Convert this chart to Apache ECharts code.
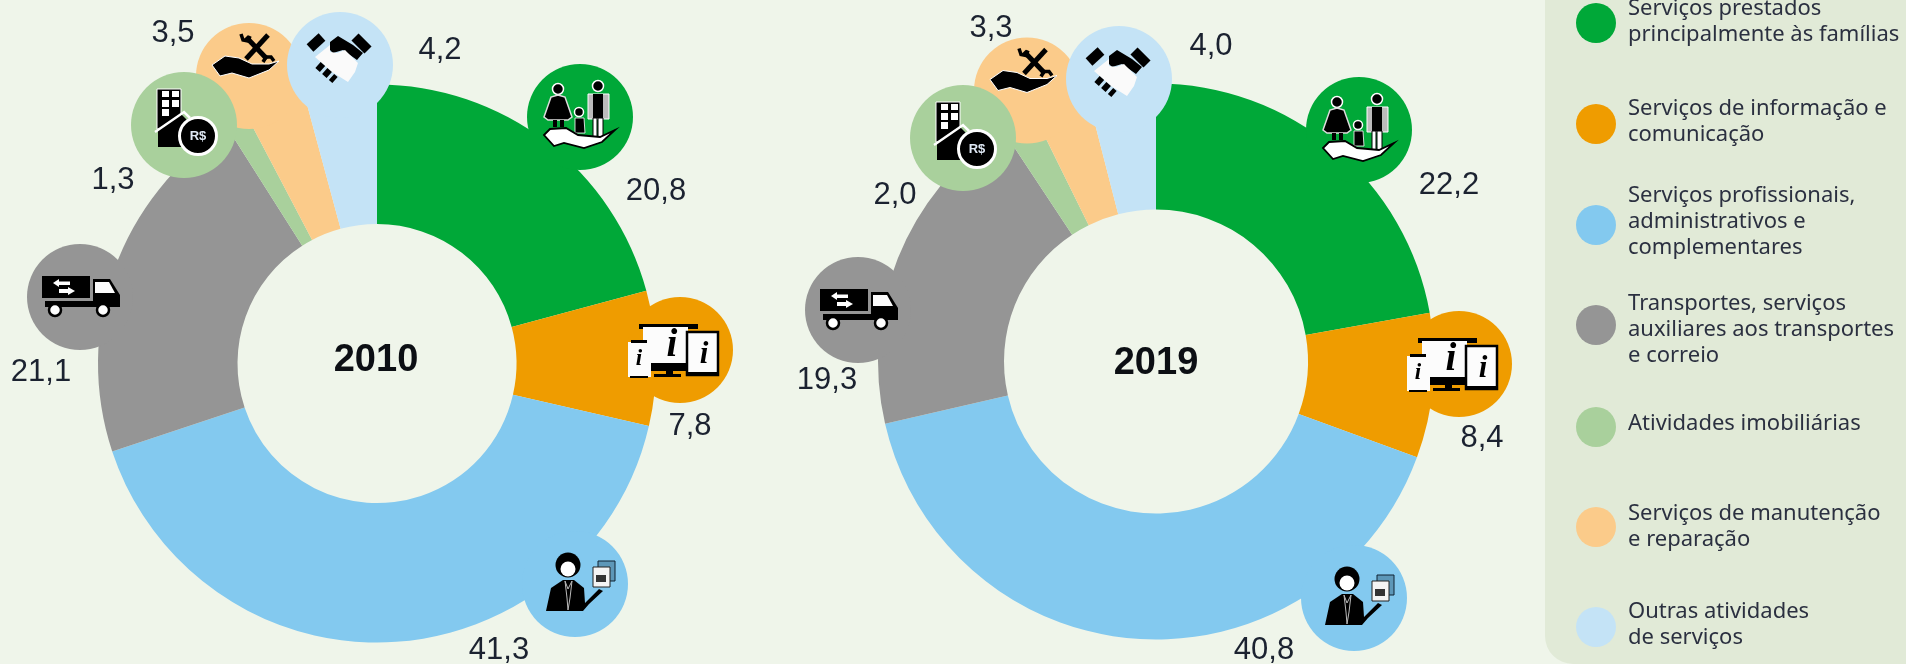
<!DOCTYPE html>
<html>
<head>
<meta charset="utf-8">
<style>
  html, body { margin: 0; padding: 0; background: #eff5ea; }
  #chart { width: 1906px; height: 664px; }
</style>
<script src="https://cdn.jsdelivr.net/npm/echarts@6/dist/echarts.min.js"></script>
</head>
<body>
<div id="chart"></div>
<script>
const categories = [
  'Serviços prestados\nprincipalmente às famílias',
  'Serviços de informação e\ncomunicação',
  'Serviços profissionais,\nadministrativos e\ncomplementares',
  'Transportes, serviços\nauxiliares aos transportes\ne correio',
  'Atividades imobiliárias',
  'Serviços de manutenção\ne reparação',
  'Outras atividades\nde serviços'
]
const values2010 = [20.8, 7.8, 41.3, 21.1, 1.3, 3.5, 4.2]
const values2019 = [22.2, 8.4, 40.8, 19.3, 2.0, 3.3, 4.0]
const years = ['2010', '2019']
const colors = ['#00a838', '#ef9c00', '#83c9ef', '#959595', '#a9d09c', '#fbcb8a', '#c4e3f6']

// layout, px on the 1906x664 page
const pieLayout = [
  { center: [377, 363.5], radius: [139.5, 279], yearAt: [376, 361] },
  { center: [1156, 361.5], radius: [152, 278], yearAt: [1156, 364] }
]
const labelSpots = [
  [[656, 191], [690, 426], [499, 650], [41, 372], [113, 180], [173, 33], [440, 50]],
  [[1449, 185], [1482, 438], [1264, 650], [827, 380], [895, 195], [991, 28], [1211, 46]]
]
const bubbleSpots = [
  [[580, 117], [680, 350], [575, 584], [80, 297], [184, 125], [249, 76], [340, 65]],
  [[1359, 130], [1459, 364], [1354, 598], [858, 310], [963, 138], [1027, 90.5], [1119, 79]]
]
const bubbleOrder = [0, 1, 2, 3, 5, 4, 6]
const swatchCenters = [23, 124, 225, 325, 427, 527, 627]
const textCenters = [21.5, 122, 222, 330, 423.5, 527, 624.5]
const legendLines = [2, 2, 3, 3, 1, 2, 2]

const poly = (points, fill, stroke, lineWidth) => ({
  type: 'polygon', shape: { points }, style: { fill, stroke, lineWidth: lineWidth || 0 }
})
const box = (x0, y0, x1, y1, fill, stroke, lineWidth) => ({
  type: 'rect', shape: { x: x0, y: y0, width: x1 - x0, height: y1 - y0 },
  style: { fill, stroke, lineWidth: lineWidth || 0 }
})
const dot = (cx, cy, r, fill, stroke, lineWidth) => ({
  type: 'circle', shape: { cx, cy, r }, style: { fill, stroke, lineWidth: lineWidth || 0 }
})
const seg = (points, stroke, lineWidth, lineDash) => ({
  type: 'polyline', shape: { points }, style: { fill: null, stroke, lineWidth, lineDash }
})
const letter = (x, y, text, fontSize, fill, fontFamily, fontStyle) => ({
  type: 'text', x, y,
  style: { text, fontSize, fill, fontFamily, fontStyle, fontWeight: 'bold', align: 'center', verticalAlign: 'middle' }
})

const iconFamily = () => [
  dot(-22, -28, 5.5, '#000', '#fff', 1.5),
  poly([[-22, -22], [-15, -20], [-8, 0], [-12, 3], [-32, 3], [-36, 0], [-29, -20]], '#000', '#ddd', 1.5),
  box(-27, 3, -23, 10, '#000'),
  box(-20, 3, -16, 10, '#000'),
  dot(18, -31, 5.5, '#000', '#fff', 1.5),
  box(8, -23, 29, 2, '#bbb', '#fff', 1),
  box(13, -23, 23, 1, '#000'),
  box(13, 1, 17, 20, '#fff', '#000', 1),
  box(18, 1, 23, 20, '#fff', '#000', 1),
  dot(-1, -5, 4.5, '#000', '#fff', 1.5),
  poly([[-5, 1], [4, 1], [5, 16], [-5, 16]], '#000', '#fff', 0.8),
  poly([[-36, 18], [-30, 12], [-14, 11], [-2, 18], [20, 20], [35, 13], [22, 25], [4, 31], [-16, 26], [-26, 29]], '#fff', '#000', 1.8)
]
const iconDevices = () => [
  box(-41, -26, 18, -21, '#000'),
  box(-37, -23, 8, 13, '#fcfcfc'),
  box(-31, 13, 7, 21, '#000'),
  box(-14, 21, -7, 25, '#000'),
  box(-26, 24, 1, 27, '#000'),
  letter(-8, -4, 'i', 39, '#000', '"Liberation Serif"', 'italic'),
  box(-52, -8, -29, 27, '#fcfcfc'),
  box(-49, -10, -33, -7, '#000'),
  box(-50, 26, -32, 28, '#000'),
  letter(-41, 9, 'i', 23, '#000', '"Liberation Serif"', 'italic'),
  box(7, -18, 38, 25, '#fcfcfc', '#000', 2.5),
  box(7, 22, 38, 26, '#000'),
  letter(24, 5, 'i', 31, '#000', '"Liberation Serif"', 'italic')
]
const iconPerson = () => [
  dot(-7, -19, 12.5, '#000'),
  dot(-7, -15, 7.5, '#fff'),
  poly([[-29, 27], [-24, 4], [-12, -4], [-1, -4], [9, 4], [10, 19], [24, 5], [28, 7], [14, 20], [8, 27]], '#000'),
  seg([[-10, -3], [-8, 14], [-7, 26], [-5, 14], [-3, -3], [-7, 5], [-10, -3]], '#bbb', 1),
  box(23, -23, 40, -3, '#5d97b8', '#123', 1),
  box(18, -17, 35, 3, '#f4f4f4', '#222', 1),
  box(21, -9, 31, -2, '#333')
]
const iconTruck = () => [
  box(-38, -21, 10, 1, '#000'),
  poly([[13, -18], [30, -18], [40, -2], [40, 10], [-35, 10], [-35, 4], [13, 4]], '#000'),
  poly([[15, -15], [29, -15], [35, -4], [15, -4]], '#fcfcfc'),
  dot(-25, 13, 6, '#fff', '#000', 2.5),
  dot(23, 13, 6, '#fff', '#000', 2.5),
  poly([[-27, -14], [-21, -18], [-21, -15.5], [-10, -15.5], [-10, -12], [-21, -12], [-21, -10]], '#fff'),
  poly([[-5, -6], [-12, -10], [-12, -8], [-21, -8], [-21, -4], [-12, -4], [-12, -2]], '#fff')
]
const iconBuilding = () => [
  box(-27, -36, -3, 4, '#000', '#fff', 1),
  box(-22, -34, -15, -28, '#fff'),
  box(-12, -34, -5, -28, '#fff'),
  box(-22, -25, -15, -18, '#fff'),
  box(-12, -25, -5, -18, '#fff'),
  box(-22, -16, -15, -9, '#fff'),
  poly([[-26, 22], [-26, 5], [-3, -11], [7, -1], [7, 22]], '#000'),
  seg([[-29, 7], [0, -13], [6, -7]], '#fff', 2.5),
  dot(14, 11, 18.5, '#000', '#fff', 3),
  letter(14, 11, 'R$', 13, '#dfe8f4', '"Liberation Sans"')
]
const iconTools = () => [
  seg([[-3, -39], [18, -17]], '#000', 5),
  seg([[19, -41], [-3, -17]], '#000', 5),
  seg([[-8, -42], [-6, -36], [-1, -35], [1, -40]], '#000', 3.5),
  seg([[14, -14], [17, -19], [22, -19], [25, -15]], '#000', 3.5),
  poly([[-37, -11], [-24, -20], [-10, -18], [3, -12], [20, -12], [30, -15], [20, -6], [0, 2], [-17, -3], [-29, 0]], '#000', '#fff', 1)
]
const iconHandshake = () => [
  seg([[-30, -17], [-18, -28]], '#000', 10),
  seg([[15, -28], [28, -15]], '#000', 10),
  poly([[-10, -23], [-2, -29], [13, -20], [23, -12], [17, -5], [3, -15], [-7, -12], [-10, -15]], '#000'),
  poly([[-25, -8], [-10, -20], [-10, -13], [-3, -12], [5, -15], [18, -2], [15, 7], [8, 17], [0, 12], [-8, 7]], '#fafafa'),
  seg([[-22, 0], [-5, 15]], '#000', 8, [6, 3])
]
const icons = [iconFamily, iconDevices, iconPerson, iconTruck, iconBuilding, iconTools, iconHandshake]

const fmt = v => v.toFixed(1).replace('.', ',')

// bubbles and icons have to sit above the pie sectors
function raise (el) {
  el.z = 10
  if (el.children) el.children.forEach(raise)
  return el
}

function buildPie (values, idx) {
  return {
    type: 'pie',
    z: 1,
    center: pieLayout[idx].center,
    radius: pieLayout[idx].radius,
    startAngle: 90,
    clockwise: true,
    animation: false,
    silent: true,
    avoidLabelOverlap: false,
    percentPrecision: 1,
    itemStyle: { borderWidth: 0 },
    label: {
      show: true,
      formatter: p => fmt(p.value),
      color: '#1b2230',
      fontFamily: '"Liberation Sans"',
      fontSize: 31
    },
    labelLine: { show: false },
    labelLayout: p => ({
      x: labelSpots[idx][p.dataIndex][0],
      y: labelSpots[idx][p.dataIndex][1],
      align: 'center',
      verticalAlign: 'middle'
    }),
    data: categories.map((name, i) => ({ name, value: values[i], itemStyle: { color: colors[i] } }))
  }
}

function buildBubbles (idx) {
  const out = []
  bubbleOrder.forEach(i => {
    const [x, y] = bubbleSpots[idx][i]
    out.push({ type: 'circle', shape: { cx: x, cy: y, r: 53 }, style: { fill: colors[i] } })
  })
  bubbleOrder.forEach(i => {
    const [x, y] = bubbleSpots[idx][i]
    out.push({ type: 'group', x, y, children: icons[i]() })
  })
  out.push({
    type: 'text', x: pieLayout[idx].yearAt[0], y: pieLayout[idx].yearAt[1],
    style: {
      text: years[idx], fontFamily: '"Liberation Sans"', fontWeight: 'bold', fontSize: 38,
      fill: '#0c0f14', align: 'center', verticalAlign: 'middle'
    }
  })
  return out.map(raise)
}

// swatch and text are separate legends, the text is not centred on its swatch in the original
const swatchLegends = categories.map((name, i) => ({
  data: [name],
  left: 1576,
  top: swatchCenters[i] - 20,
  padding: 0,
  z: 20,
  selectedMode: false,
  icon: 'circle',
  itemWidth: 40,
  itemHeight: 40,
  formatter: () => ' ',
  textStyle: { fontSize: 10 }
}))
const textLegends = categories.map((name, i) => ({
  data: [{ name, icon: 'none' }],
  left: 1576,
  top: textCenters[i] - legendLines[i] * 13,
  padding: 0,
  z: 20,
  selectedMode: false,
  itemWidth: 47,
  itemHeight: 10,
  textStyle: {
    color: '#2b3040',
    fontFamily: '"Noto Sans"',
    fontSize: 22,
    lineHeight: 26
  }
}))

const chart = echarts.init(document.getElementById('chart'))
chart.setOption({
  backgroundColor: '#eff5ea',
  animation: false,
  legend: swatchLegends.concat(textLegends),
  graphic: {
    elements: [
      {
        type: 'rect',
        shape: { x: 1545, y: -40, width: 400, height: 704, r: [0, 0, 0, 28] },
        style: { fill: '#e1ead7' }
      }
    ].concat(buildBubbles(0), buildBubbles(1))
  },
  series: [buildPie(values2010, 0), buildPie(values2019, 1)]
})
</script>
</body>
</html>
